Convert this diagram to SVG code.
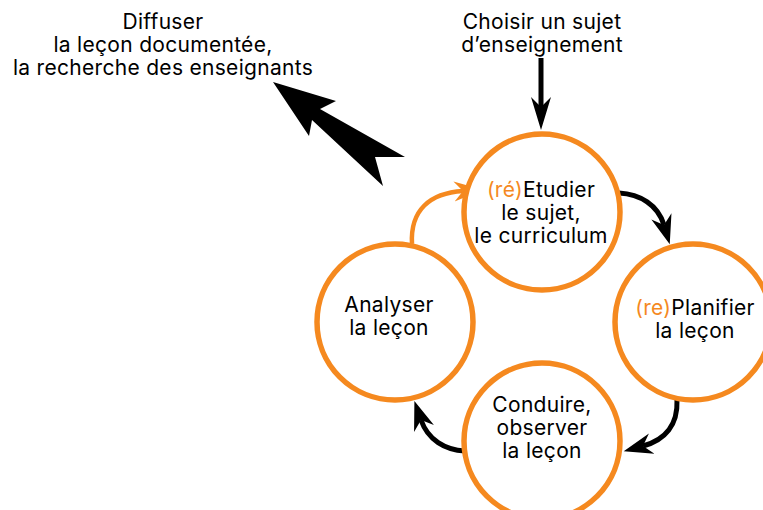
<svg xmlns="http://www.w3.org/2000/svg" width="763" height="510" viewBox="0 0 763 510">
  <defs>
    <style>
      .t { font-family: Inter, "Liberation Sans", Arial, sans-serif; font-size: 21px; letter-spacing: 0.3px; fill: #000; text-anchor: middle; }
      .o { fill: #F5891F; }
      .ring { fill: #fff; stroke: #F5891F; stroke-width: 5.5; }
      .blk { fill: none; stroke: #000; stroke-width: 5; }
      .org { fill: none; stroke: #F5891F; stroke-width: 4.5; }
    </style>
    <marker id="ahB" markerUnits="userSpaceOnUse" viewBox="0 -12 32 24" markerWidth="32" markerHeight="24" refX="9" refY="0" orient="auto">
      <path d="M0,-10.5 L29,0 L0,10.5 L9,0 Z" fill="#000"/>
    </marker>
    <marker id="ahD" markerUnits="userSpaceOnUse" viewBox="0 -12 36 24" markerWidth="36" markerHeight="24" refX="10" refY="0" orient="auto">
      <path d="M0,-10 L33,0 L0,10 L10,0 Z" fill="#000"/>
    </marker>
    <marker id="ahO" markerUnits="userSpaceOnUse" viewBox="0 -12 32 24" markerWidth="32" markerHeight="24" refX="9" refY="0" orient="auto">
      <path d="M0,-10 L29,0 L0,10 L9,0 Z" fill="#F5891F"/>
    </marker>
  </defs>
  <rect width="763" height="510" fill="#fff"/>

  <g id="connectors">
    <path class="blk" d="M541,58 L541,107" marker-end="url(#ahD)"/>
    <path class="blk" d="M619,193 C640,194 658,205 664,225" marker-end="url(#ahB)"/>
    <path class="blk" d="M677,400 C678,425 665,440 643,446" marker-end="url(#ahB)"/>
    <path class="blk" d="M465,451 C445,450 428,440 421,420" marker-end="url(#ahB)"/>
    <path class="org" d="M412,244 C410,210 430,193 463,191" marker-end="url(#ahO)"/>
    <polygon id="big-arrow" points="273,82 336,101 320,109 405,157 375,157 383,186 312,120 309,136" fill="#000"/>
  </g>

  <g id="node-etudier">
    <circle class="ring" cx="542" cy="212" r="78"/>
    <text class="t" x="541" y="197"><tspan class="o">(ré)</tspan>Etudier<tspan x="541" dy="23">le sujet,</tspan><tspan x="541" dy="23">le curriculum</tspan></text>
  </g>
  <g id="node-planifier">
    <circle class="ring" cx="693" cy="322" r="78"/>
    <text class="t" x="695" y="315"><tspan class="o">(re)</tspan>Planifier<tspan x="695" dy="23">la leçon</tspan></text>
  </g>
  <g id="node-conduire">
    <circle class="ring" cx="542" cy="441" r="78"/>
    <text class="t" x="542" y="412">Conduire,<tspan x="542" dy="23">observer</tspan><tspan x="542" dy="23">la leçon</tspan></text>
  </g>
  <g id="node-analyser">
    <circle class="ring" cx="395" cy="322" r="78"/>
    <text class="t" x="389" y="312">Analyser<tspan x="389" dy="23">la leçon</tspan></text>
  </g>
  <g id="label-choisir">
    <text class="t" x="542" y="29">Choisir un sujet<tspan x="542" dy="23">d’enseignement</tspan></text>
  </g>
  <g id="label-diffuser">
    <text class="t" x="163" y="29">Diffuser<tspan x="163" dy="23">la leçon documentée,</tspan><tspan x="163" dy="23">la recherche des enseignants</tspan></text>
  </g>
</svg>
